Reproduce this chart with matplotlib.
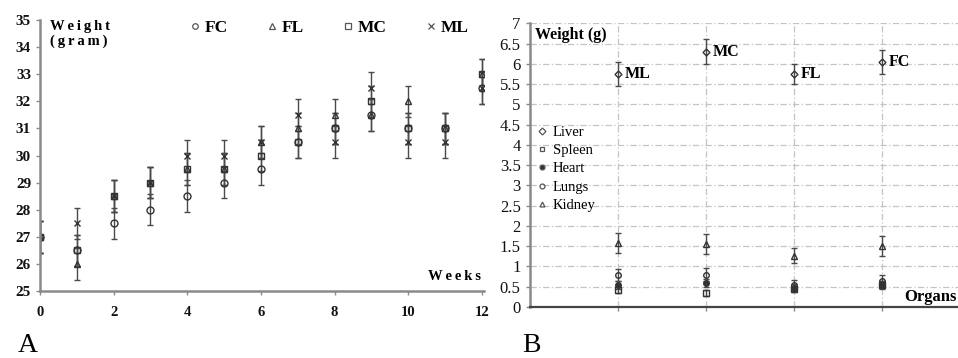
import matplotlib
matplotlib.use("Agg")
import matplotlib.pyplot as plt
from matplotlib.lines import Line2D

plt.rcParams["font.family"] = ["Liberation Serif", "DejaVu Serif"]

# ---------------- Panel A: body weight over weeks ----------------
WEEKS = [0, 1, 2, 3, 4, 5, 6, 7, 8, 9, 10, 11, 12]
GROUPS = ["FC", "FL", "MC", "ML"]
FC_WEIGHT = [27.0, 26.5, 27.5, 28.0, 28.5, 29.0, 29.5, 30.5, 31.0, 31.5, 31.0, 31.0, 32.5]
FL_WEIGHT = [27.0, 26.0, 28.5, 29.0, 29.5, 29.5, 30.5, 31.0, 31.5, 31.5, 32.0, 31.0, 33.0]
MC_WEIGHT = [27.0, 26.5, 28.5, 29.0, 29.5, 29.5, 30.0, 30.5, 31.0, 32.0, 31.0, 31.0, 33.0]
ML_WEIGHT = [27.0, 27.5, 28.5, 29.0, 30.0, 30.0, 30.5, 31.5, 30.5, 32.5, 30.5, 30.5, 32.5]
WEIGHT_ERR = 0.58

# ---------------- Panel B: organ weights ----------------
ORGAN_GROUPS = ["ML", "MC", "FL", "FC"]
ORGANS = ["Liver", "Spleen", "Heart", "Lungs", "Kidney"]
LIVER = [5.75, 6.3, 5.75, 6.05]
LIVER_ERR = [0.3, 0.3, 0.25, 0.3]
SPLEEN = [0.42, 0.35, 0.45, 0.55]
SPLEEN_ERR = [0.08, 0.08, 0.08, 0.08]
HEART = [0.55, 0.6, 0.48, 0.55]
HEART_ERR = [0.1, 0.1, 0.08, 0.1]
LUNGS = [0.78, 0.8, 0.55, 0.65]
LUNGS_ERR = [0.15, 0.15, 0.12, 0.15]
KIDNEY = [1.58, 1.55, 1.27, 1.5]
KIDNEY_ERR = [0.25, 0.25, 0.18, 0.25]

INK = "#333333"
AXIS_GRAY = "#8a8a8a"
THIN = "\u2009"

fig = plt.figure(figsize=(9.58, 3.58), dpi=100)

# ================= Panel A =================
ax_a = fig.add_axes([0.0418, 0.187, 0.463, 0.757])
series_a = [
    (GROUPS[0], FC_WEIGHT, "o", "none"),
    (GROUPS[1], FL_WEIGHT, "^", "none"),
    (GROUPS[2], MC_WEIGHT, "s", "none"),
    (GROUPS[3], ML_WEIGHT, "x", INK),
]
handles_a = []
for name, values, marker, face in series_a:
    ax_a.errorbar(
        WEEKS, values, yerr=WEIGHT_ERR, fmt=marker, ms=5, mfc=face, mec=INK,
        mew=1.0, ecolor="#4a4a4a", elinewidth=1.0, capsize=2.5, capthick=1.0,
    )
    handles_a.append(Line2D([], [], ls="none", marker=marker, ms=4, mfc=face,
                            mec="#555555", mew=0.9, label=name))

ax_a.set_xlim(0, 12.05)
ax_a.set_ylim(25, 35)
ax_a.set_xticks(range(0, 13, 2))
ax_a.set_yticks(range(25, 36))
for side in ["top", "right"]:
    ax_a.spines[side].set_visible(False)
for side in ["left", "bottom"]:
    ax_a.spines[side].set_color(AXIS_GRAY)
    ax_a.spines[side].set_linewidth(1.8)
ax_a.tick_params(axis="both", colors=AXIS_GRAY, length=3, width=1, labelcolor="#111111",
                 labelsize=11)
ax_a.tick_params(axis="x", pad=8, labelsize=10.5)
for lbl in ax_a.get_xticklabels() + ax_a.get_yticklabels():
    lbl.set_fontweight("bold")

ax_a.text(0.022, 1.0, THIN.join("Weight") + "\n" + THIN.join("(gram)"),
          transform=ax_a.transAxes, fontsize=10.5, fontweight="bold", va="top",
          ha="left", linespacing=1.1)
ax_a.text(0.995, 0.03, THIN.join("Weeks"), transform=ax_a.transAxes, fontsize=10.5,
          fontweight="bold", ha="right", va="bottom")

ax_a.legend(handles=handles_a, loc="center", bbox_to_anchor=(0.648, 0.97), ncol=4,
            frameon=False, handletextpad=0.05, columnspacing=2.05, handlelength=1.0,
            prop={"weight": "bold", "size": 12.5})

# ================= Panel B =================
ax_b = fig.add_axes([0.553, 0.1425, 0.447, 0.7925])
x_pos = list(range(1, len(ORGAN_GROUPS) + 1))
series_b = [
    (ORGANS[0], LIVER, LIVER_ERR, "D", "none", 3.5),
    (ORGANS[1], SPLEEN, SPLEEN_ERR, "s", "none", 4),
    (ORGANS[2], HEART, HEART_ERR, "o", INK, 4),
    (ORGANS[3], LUNGS, LUNGS_ERR, "o", "none", 4),
    (ORGANS[4], KIDNEY, KIDNEY_ERR, "^", "none", 4),
]
handles_b = []
for name, values, err, marker, face, size in series_b:
    ax_b.errorbar(
        x_pos, values, yerr=err, fmt=marker, ms=size, mfc=face, mec=INK, mew=1.0,
        ecolor="#4a4a4a", elinewidth=1.0, capsize=2.5, capthick=1.0,
    )
    handles_b.append(Line2D([], [], ls="none", marker=marker, ms=3.5, mfc=face,
                            mec="#555555", mew=0.9, label=name))

for xi, group, val in zip(x_pos, ORGAN_GROUPS, LIVER):
    ax_b.annotate(group, (xi, val), xytext=(5, 0), textcoords="offset points",
                  fontsize=11.5, fontweight="bold", va="center", ha="left")

ax_b.set_xlim(0, 4.86)
ax_b.set_ylim(0, 7)
ax_b.set_xticks(x_pos)
ax_b.set_xticklabels([])
ax_b.set_yticks([i * 0.5 for i in range(15)])
ax_b.set_yticklabels(["0", "0.5", "1", "1.5", "2", "2.5", "3", "3.5", "4", "4.5",
                      "5", "5.5", "6", "6.5", "7"])
ax_b.grid(True, color="#c4c4c4", linestyle=(0, (5, 2, 1, 2)), linewidth=0.9)
ax_b.set_axisbelow(True)
for side in ["top", "right"]:
    ax_b.spines[side].set_visible(False)
ax_b.spines["left"].set_color(AXIS_GRAY)
ax_b.spines["left"].set_linewidth(1.8)
ax_b.spines["bottom"].set_color("#444444")
ax_b.spines["bottom"].set_linewidth(1.6)
ax_b.tick_params(axis="both", colors=AXIS_GRAY, length=3, width=1, labelcolor="#111111",
                 labelsize=12)

ax_b.text(0.012, 0.96, "Weight (g)", transform=ax_b.transAxes, fontsize=11.5,
          fontweight="bold", va="center", ha="left")
ax_b.text(0.997, 0.035, "Organs", transform=ax_b.transAxes, fontsize=12,
          fontweight="bold", va="center", ha="right", clip_on=False)

ax_b.legend(handles=handles_b, loc="upper left", bbox_to_anchor=(0.0, 0.66),
            frameon=False, handletextpad=0.3, handlelength=0.9, labelspacing=0.35,
            prop={"size": 10.5}, borderaxespad=0)

# panel letters
fig.text(0.018, 0.035, "A", fontsize=20, va="center", ha="left")
fig.text(0.545, 0.035, "B", fontsize=20, va="center", ha="left")

fig.savefig("out.png", dpi=100)
plt.close(fig)
